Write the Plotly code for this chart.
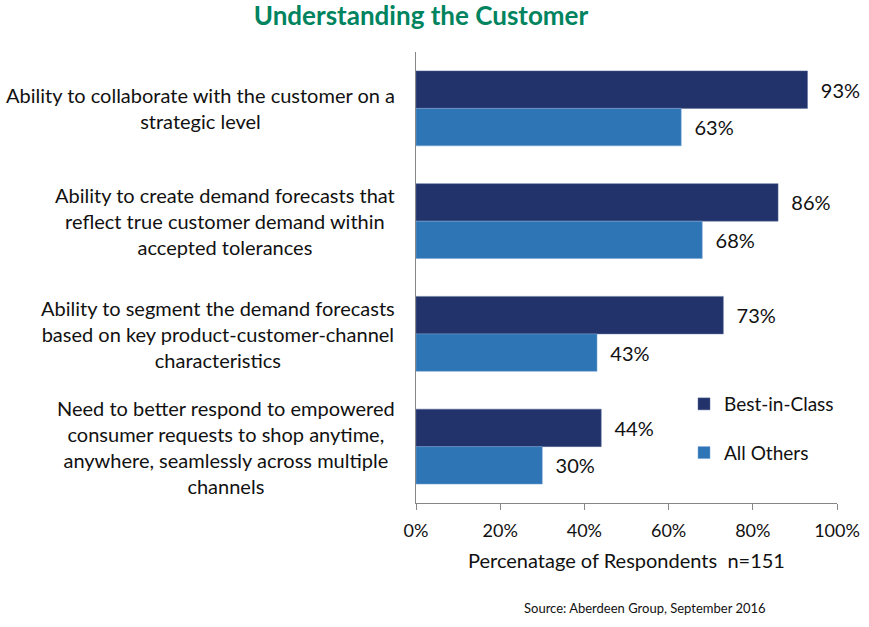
import plotly.graph_objects as go

categories = [
    "Ability to collaborate with the customer on a<br>strategic level",
    "Ability to create demand forecasts that<br>reflect true customer demand within<br>accepted tolerances",
    "Ability to segment the demand forecasts<br>based on key product-customer-channel<br>characteristics",
    "Need to better respond to empowered<br>consumer requests to shop anytime,<br>anywhere, seamlessly across multiple<br>channels",
]
best_in_class = [93, 86, 73, 44]
all_others = [63, 68, 43, 30]
x_ticks = [0, 20, 40, 60, 80, 100]
x_tick_labels = ["0%", "20%", "40%", "60%", "80%", "100%"]

FONT = "Lato"
TXT = "#111111"
keys = ["c%d" % i for i in range(len(categories))]

fig = go.Figure()
fig.add_trace(go.Bar(
    y=keys, x=best_in_class, orientation="h", name="Best-in-Class",
    marker=dict(color="#22336B", line=dict(color="#5a6f9a", width=0.5)),
    text=[f"  {v}%" for v in best_in_class], textposition="outside",
    textfont=dict(size=20, color=TXT, family=FONT),
    cliponaxis=False, legendgroup="a",
))
fig.add_trace(go.Bar(
    y=keys, x=all_others, orientation="h", name="All Others",
    marker=dict(color="#2E75B6", line=dict(color="#7fa7d6", width=0.5)),
    text=[f"  {v}%" for v in all_others], textposition="outside",
    textfont=dict(size=20, color=TXT, family=FONT),
    cliponaxis=False, legendgroup="b",
))

# category labels: each block centred, right edge just left of the axis
for k, c in zip(keys, categories):
    fig.add_annotation(
        x=-0.045, xref="paper", y=k, yref="y", text=c, showarrow=False,
        align="center", xanchor="right", yanchor="middle",
        font=dict(size=20, color=TXT, family=FONT),
    )

# axis title and source line
fig.add_annotation(
    x=0.5, xref="paper", y=-0.1264, yref="paper",
    text="Percenatage of Respondents  n=151", showarrow=False,
    xanchor="center", yanchor="middle",
    font=dict(size=20, color=TXT, family=FONT),
)
fig.add_annotation(
    x=0.544, xref="paper", y=-0.2328, yref="paper",
    text="Source: Aberdeen Group, September 2016", showarrow=False,
    xanchor="center", yanchor="middle",
    font=dict(size=13, color=TXT, family=FONT),
)

fig.update_layout(
    width=869, height=627,
    margin=dict(l=416, r=32, t=52, b=124, autoexpand=False),
    paper_bgcolor="white", plot_bgcolor="white",
    title=dict(text="<b>Understanding the Customer</b>", x=421 / 869, xanchor="center",
               y=1 - 16 / 627, yanchor="middle",
               font=dict(size=26, color="#00845F", family=FONT)),
    barmode="group", bargap=0.335, bargroupgap=0,
    legend=dict(x=0.6366, y=0.2616, xanchor="left", yanchor="top",
                font=dict(size=19, color=TXT, family=FONT),
                tracegroupgap=21, traceorder="grouped",
                bgcolor="rgba(0,0,0,0)"),
    showlegend=True,
)
fig.update_xaxes(
    range=[0, 100], tickvals=x_ticks, ticktext=x_tick_labels,
    showgrid=False, zeroline=False, automargin=False,
    showline=True, linecolor="#868686", linewidth=1,
    ticks="outside", ticklen=6, tickcolor="#868686", ticklabelstandoff=5,
    tickfont=dict(size=18, color=TXT, family=FONT),
)
fig.update_yaxes(
    autorange="reversed", showticklabels=False, showgrid=False,
    automargin=False,
    showline=True, linecolor="#868686", linewidth=1, ticks="",
)

# drop the browser's default 8px body margin so the chart fills the window
fig.write_html("out.html", config={"displayModeBar": False},
               post_script="document.body.style.margin = '0';")
